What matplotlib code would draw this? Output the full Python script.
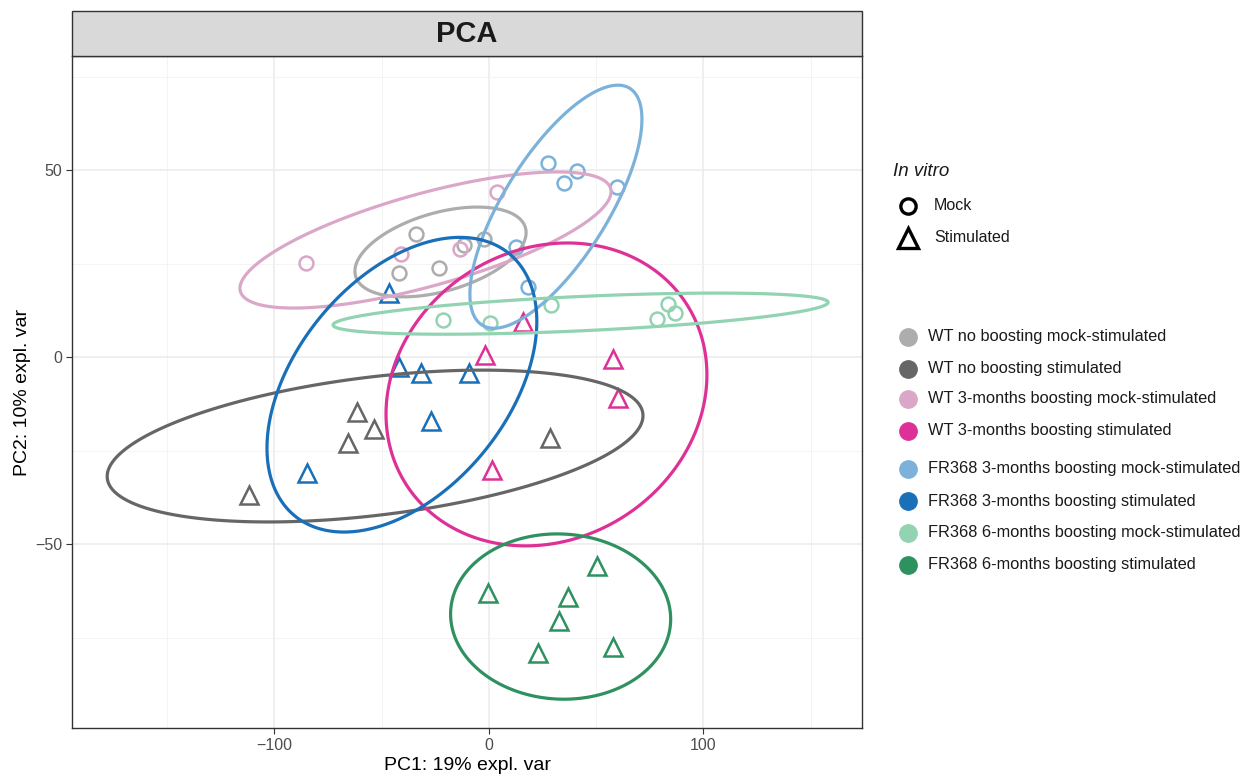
import numpy as np
import matplotlib
matplotlib.use("Agg")
import matplotlib.pyplot as plt
from matplotlib.lines import Line2D
from matplotlib.patches import Rectangle, Polygon

plt.rcParams['font.family'] = ['Liberation Sans', 'DejaVu Sans']

# ---------------- data ----------------
groups = [
    "WT no boosting mock-stimulated",
    "WT no boosting stimulated",
    "WT 3-months boosting mock-stimulated",
    "WT 3-months boosting stimulated",
    "FR368 3-months boosting mock-stimulated",
    "FR368 3-months boosting stimulated",
    "FR368 6-months boosting mock-stimulated",
    "FR368 6-months boosting stimulated",
]
group_colors = ["#ADADAD", "#666666", "#DBA7C8", "#DE3197",
                "#7CB2DA", "#1A6FB9", "#92D3B2", "#2E9160"]
invitro = ["Mock", "Stimulated", "Mock", "Stimulated",
           "Mock", "Stimulated", "Mock", "Stimulated"]

pc1_wt_nb_mock = [-34.0, -42.0, -23.3, -11.7, -2.3]
pc2_wt_nb_mock = [32.9, 22.5, 23.8, 29.9, 31.6]
pc1_wt_nb_stim = [-61.7, -53.6, -65.7, -111.9, 28.4]
pc2_wt_nb_stim = [-14.7, -19.3, -23.0, -36.9, -21.7]
pc1_wt_3m_mock = [-85.3, -41.0, -13.5, 3.7]
pc2_wt_3m_mock = [25.1, 27.5, 28.9, 44.1]
pc1_wt_3m_stim = [-1.9, 15.9, 57.8, 60.1, 1.4]
pc2_wt_3m_stim = [0.5, 9.4, -0.5, -11.0, -30.2]
pc1_fr_3m_mock = [27.5, 41.0, 35.0, 59.7, 12.6, 18.2]
pc2_fr_3m_mock = [51.9, 49.7, 46.5, 45.5, 29.4, 18.7]
pc1_fr_3m_stim = [-46.6, -42.0, -31.7, -9.3, -27.0, -84.8]
pc2_fr_3m_stim = [17.1, -2.7, -4.3, -4.3, -17.1, -31.0]
pc1_fr_6m_mock = [-21.4, 0.5, 28.9, 78.3, 83.4, 86.7]
pc2_fr_6m_mock = [9.9, 9.1, 13.9, 10.2, 14.2, 11.8]
pc1_fr_6m_stim = [50.5, -0.3, 36.9, 32.6, 22.8, 57.9]
pc2_fr_6m_stim = [-55.9, -63.1, -64.3, -70.6, -79.2, -77.6]

pc1 = [pc1_wt_nb_mock, pc1_wt_nb_stim, pc1_wt_3m_mock, pc1_wt_3m_stim,
       pc1_fr_3m_mock, pc1_fr_3m_stim, pc1_fr_6m_mock, pc1_fr_6m_stim]
pc2 = [pc2_wt_nb_mock, pc2_wt_nb_stim, pc2_wt_3m_mock, pc2_wt_3m_stim,
       pc2_fr_3m_mock, pc2_fr_3m_stim, pc2_fr_6m_mock, pc2_fr_6m_stim]

# 95% confidence ellipses (data units):
# centre, half x-extent, half y-extent, correlation
ell_cx = [-22.6, -53.1, -29.6, 26.8, 31.2, -40.6, 42.7, 33.4]
ell_cy = [28.1, -23.8, 31.3, -10.0, 40.2, -7.4, 11.6, -69.4]
ell_sx = [39.9, 124.9, 86.5, 74.8, 40.1, 62.9, 115.4, 51.3]
ell_sy = [12.0, 20.3, 18.2, 40.5, 32.5, 39.4, 5.5, 22.1]
ell_rho = [0.43, 0.40, 0.71, 0.13, 0.72, 0.43, 0.55, -0.03]

x_ticks = [-100, 0, 100]
y_ticks = [-50, 0, 50]


def ellipse_pts(cx, cy, sx, sy, rho, segments=240):
    cov = np.array([[sx * sx, rho * sx * sy], [rho * sx * sy, sy * sy]])
    Lc = np.linalg.cholesky(cov)
    t = np.linspace(0, 2 * np.pi, segments, endpoint=False)
    circ = np.column_stack([np.cos(t), np.sin(t)])
    return np.array([cx, cy]) + circ @ Lc.T


# ---------------- figure ----------------
W, H = 1254, 776
fig = plt.figure(figsize=(W / 100, H / 100), dpi=100)
L_, R_, T_, B_ = 72, 862, 56, 728
ax = fig.add_axes([L_ / W, 1 - B_ / H, (R_ - L_) / W, (B_ - T_) / H])

marker_map = {"Mock": "o", "Stimulated": "^"}
size_map = {"Mock": 10, "Stimulated": 13}

for xs, ys, col, iv in zip(pc1, pc2, group_colors, invitro):
    ax.plot(xs, ys, linestyle="none", marker=marker_map[iv],
            markersize=size_map[iv], markerfacecolor="none",
            markeredgecolor=col, markeredgewidth=1.8, zorder=3)

for cx, cy, sx, sy, r, col in zip(ell_cx, ell_cy, ell_sx, ell_sy, ell_rho,
                                  group_colors):
    pts = ellipse_pts(cx, cy, sx, sy, r)
    ax.add_patch(Polygon(pts, closed=True, fill=False, edgecolor=col,
                         linewidth=2.3, zorder=4, joinstyle="round"))

ax.set_xlim(-194.4, 173.9)
ax.set_ylim(-99.2, 80.5)
ax.set_xticks(x_ticks)
ax.set_yticks(y_ticks)
ax.set_xticks([-150, -50, 50, 150], minor=True)
ax.set_yticks([-75, -25, 25, 75], minor=True)
ax.set_xticklabels([f"\u2212{abs(v)}" if v < 0 else str(v) for v in x_ticks])
ax.set_yticklabels([f"\u2212{abs(v)}" if v < 0 else str(v) for v in y_ticks])
ax.grid(which="major", color="#EBEBEB", linewidth=1.1, zorder=0)
ax.grid(which="minor", color="#F3F3F3", linewidth=0.6, zorder=0)
ax.set_axisbelow(True)
ax.tick_params(which="major", direction="out", length=4, width=0.8,
               color="#333333", labelsize=11.5, labelcolor="#4D4D4D", pad=3)
ax.tick_params(which="minor", length=0)
for s in ax.spines.values():
    s.set_color("#333333")
    s.set_linewidth(1.0)

ax.set_xlabel("PC1: 19% expl. var", fontsize=14, labelpad=3)
ax.set_ylabel("PC2: 10% expl. var", fontsize=14, labelpad=3)

# facet strip
strip = Rectangle((L_ / W, 1 - T_ / H), (R_ - L_) / W, 45 / H,
                  transform=fig.transFigure, facecolor="#D9D9D9",
                  edgecolor="#333333", linewidth=1.0)
fig.add_artist(strip)
fig.text((L_ + R_) / 2 / W, 1 - 34 / H, "PCA", ha="center", va="center",
         fontsize=21, fontweight="bold", color="#1A1A1A")


# ---------------- legends ----------------
def fx(px):
    return px / W


def fy(py):
    return 1 - py / H


fig.text(fx(893), fy(171), "In vitro", style="italic", fontsize=13.5,
         ha="left", va="center", color="#1A1A1A")
shape_levels = ["Mock", "Stimulated"]
shape_y = [206, 238]
for lev, yy in zip(shape_levels, shape_y):
    fig.add_artist(Line2D([fx(908)], [fy(yy)], transform=fig.transFigure,
                          marker=marker_map[lev], linestyle="none",
                          markersize=size_map[lev] + 1.0, markerfacecolor="none",
                          markeredgecolor="black", markeredgewidth=2.4))
    fig.text(fx(934), fy(yy), lev, fontsize=11.5, ha="left", va="center",
             color="#1A1A1A")

col_y = [337, 369, 399, 431, 469, 501, 533, 565]
for g, c, yy in zip(groups, group_colors, col_y):
    fig.add_artist(Line2D([fx(908)], [fy(yy)], transform=fig.transFigure,
                          marker="o", linestyle="none", markersize=12.5,
                          markerfacecolor=c, markeredgecolor=c))
    fig.text(fx(928), fy(yy), g, fontsize=11.8, ha="left", va="center",
             color="#1A1A1A")

fig.savefig("out.png", dpi=100)
